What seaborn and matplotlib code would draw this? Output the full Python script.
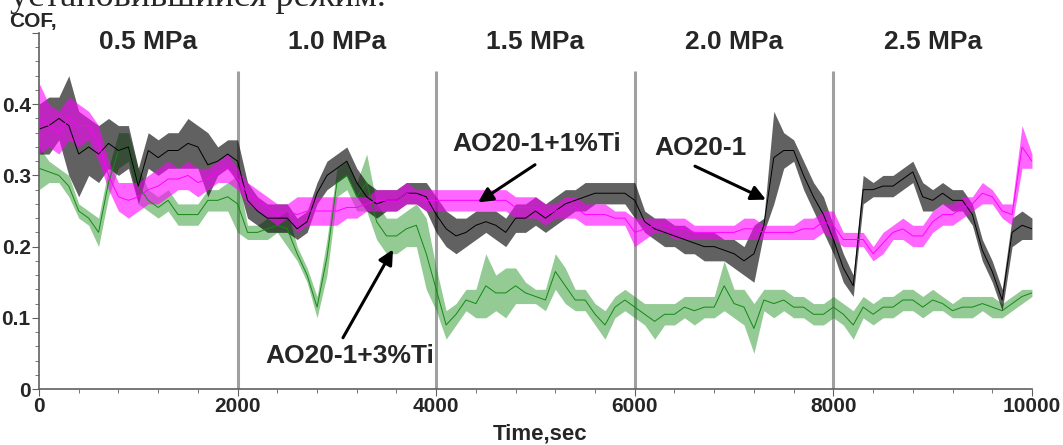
import numpy as np
import pandas as pd
import seaborn as sns
import matplotlib.pyplot as plt

# -----------------------------
# Data (lower / upper edge of the noisy trace every 100 s)
time_s = list(range(0, 10001, 100))

black_lo = [0.33, 0.33, 0.35, 0.30, 0.27, 0.30, 0.29, 0.31, 0.30, 0.31,
            0.26, 0.31, 0.30, 0.31, 0.31, 0.31, 0.31, 0.27, 0.30, 0.31,
            0.29, 0.24, 0.23, 0.22, 0.22, 0.22, 0.21, 0.22, 0.26, 0.28,
            0.29, 0.30, 0.27, 0.25, 0.24, 0.25, 0.25, 0.26, 0.26, 0.25,
            0.22, 0.20, 0.19, 0.20, 0.21, 0.22, 0.21, 0.20, 0.22, 0.22,
            0.23, 0.22, 0.23, 0.24, 0.25, 0.25, 0.26, 0.26, 0.26, 0.26,
            0.24, 0.22, 0.21, 0.20, 0.20, 0.19, 0.19, 0.18, 0.18, 0.18,
            0.17, 0.16, 0.15, 0.22, 0.26, 0.31, 0.32, 0.28, 0.25, 0.22,
            0.19, 0.15, 0.13, 0.26, 0.27, 0.27, 0.27, 0.28, 0.29, 0.25,
            0.25, 0.26, 0.25, 0.25, 0.23, 0.18, 0.15, 0.11, 0.20, 0.21,
            0.21]
black_hi = [0.40, 0.41, 0.41, 0.44, 0.39, 0.38, 0.37, 0.38, 0.37, 0.37,
            0.31, 0.36, 0.35, 0.36, 0.36, 0.38, 0.37, 0.36, 0.34, 0.35,
            0.35, 0.29, 0.27, 0.26, 0.26, 0.26, 0.24, 0.25, 0.29, 0.32,
            0.33, 0.34, 0.31, 0.29, 0.28, 0.28, 0.28, 0.29, 0.29, 0.29,
            0.27, 0.25, 0.24, 0.24, 0.25, 0.25, 0.25, 0.24, 0.26, 0.26,
            0.27, 0.26, 0.27, 0.28, 0.28, 0.29, 0.29, 0.29, 0.29, 0.29,
            0.29, 0.25, 0.24, 0.24, 0.23, 0.23, 0.22, 0.22, 0.22, 0.21,
            0.21, 0.20, 0.23, 0.24, 0.39, 0.36, 0.35, 0.32, 0.29, 0.27,
            0.23, 0.19, 0.16, 0.30, 0.29, 0.30, 0.30, 0.31, 0.32, 0.29,
            0.28, 0.29, 0.28, 0.28, 0.26, 0.21, 0.18, 0.14, 0.24, 0.25,
            0.24]

magenta_lo = [0.33, 0.34, 0.33, 0.35, 0.34, 0.35, 0.32, 0.28, 0.25, 0.24,
              0.25, 0.26, 0.26, 0.27, 0.28, 0.28, 0.27, 0.28, 0.29, 0.29,
              0.28, 0.26, 0.25, 0.24, 0.23, 0.24, 0.22, 0.23, 0.23, 0.23,
              0.23, 0.24, 0.24, 0.25, 0.25, 0.25, 0.25, 0.26, 0.26, 0.25,
              0.25, 0.25, 0.25, 0.25, 0.25, 0.25, 0.25, 0.25, 0.24, 0.24,
              0.24, 0.23, 0.24, 0.24, 0.24, 0.23, 0.23, 0.23, 0.23, 0.23,
              0.20, 0.21, 0.22, 0.22, 0.21, 0.21, 0.21, 0.21, 0.21, 0.21,
              0.21, 0.21, 0.21, 0.21, 0.21, 0.21, 0.21, 0.21, 0.21, 0.22,
              0.21, 0.20, 0.20, 0.20, 0.18, 0.19, 0.21, 0.21, 0.20, 0.20,
              0.22, 0.23, 0.23, 0.24, 0.25, 0.26, 0.26, 0.24, 0.23, 0.31,
              0.31]
magenta_hi = [0.43, 0.40, 0.39, 0.41, 0.40, 0.39, 0.37, 0.32, 0.29, 0.29,
              0.29, 0.30, 0.31, 0.32, 0.31, 0.32, 0.31, 0.31, 0.32, 0.33,
              0.31, 0.29, 0.28, 0.27, 0.26, 0.26, 0.27, 0.27, 0.27, 0.27,
              0.27, 0.27, 0.27, 0.27, 0.28, 0.28, 0.28, 0.29, 0.28, 0.28,
              0.28, 0.28, 0.28, 0.28, 0.28, 0.28, 0.28, 0.28, 0.27, 0.27,
              0.27, 0.26, 0.26, 0.27, 0.27, 0.26, 0.26, 0.26, 0.25, 0.25,
              0.24, 0.24, 0.24, 0.24, 0.24, 0.24, 0.23, 0.23, 0.23, 0.23,
              0.23, 0.24, 0.24, 0.23, 0.23, 0.23, 0.23, 0.24, 0.24, 0.25,
              0.25, 0.22, 0.22, 0.22, 0.20, 0.22, 0.23, 0.24, 0.23, 0.23,
              0.25, 0.26, 0.26, 0.27, 0.27, 0.29, 0.28, 0.26, 0.26, 0.37,
              0.33]

green_lo = [0.28, 0.29, 0.29, 0.27, 0.24, 0.23, 0.20, 0.27, 0.31, 0.32,
            0.26, 0.25, 0.24, 0.25, 0.23, 0.23, 0.23, 0.25, 0.25, 0.25,
            0.22, 0.21, 0.21, 0.21, 0.22, 0.20, 0.18, 0.15, 0.10, 0.16,
            0.27, 0.28, 0.25, 0.25, 0.21, 0.19, 0.19, 0.20, 0.20, 0.14,
            0.11, 0.07, 0.09, 0.11, 0.10, 0.10, 0.11, 0.10, 0.12, 0.12,
            0.12, 0.11, 0.14, 0.12, 0.11, 0.11, 0.09, 0.07, 0.10, 0.11,
            0.10, 0.09, 0.07, 0.09, 0.09, 0.10, 0.09, 0.10, 0.10, 0.11,
            0.10, 0.09, 0.05, 0.11, 0.10, 0.11, 0.10, 0.10, 0.09, 0.09,
            0.10, 0.09, 0.07, 0.10, 0.09, 0.10, 0.10, 0.11, 0.11, 0.10,
            0.11, 0.11, 0.10, 0.10, 0.10, 0.11, 0.10, 0.10, 0.11, 0.12,
            0.13]
green_hi = [0.34, 0.32, 0.31, 0.30, 0.26, 0.25, 0.24, 0.31, 0.36, 0.36,
            0.31, 0.28, 0.27, 0.28, 0.26, 0.26, 0.26, 0.28, 0.28, 0.29,
            0.30, 0.23, 0.23, 0.24, 0.24, 0.25, 0.20, 0.17, 0.13, 0.21,
            0.31, 0.32, 0.29, 0.33, 0.26, 0.24, 0.24, 0.25, 0.26, 0.24,
            0.17, 0.11, 0.12, 0.14, 0.14, 0.19, 0.16, 0.17, 0.17, 0.15,
            0.14, 0.14, 0.19, 0.17, 0.14, 0.14, 0.12, 0.11, 0.13, 0.14,
            0.13, 0.12, 0.12, 0.12, 0.12, 0.13, 0.13, 0.13, 0.13, 0.18,
            0.14, 0.14, 0.12, 0.14, 0.14, 0.14, 0.13, 0.13, 0.12, 0.12,
            0.13, 0.12, 0.11, 0.13, 0.12, 0.13, 0.13, 0.14, 0.14, 0.13,
            0.14, 0.13, 0.12, 0.13, 0.13, 0.13, 0.13, 0.12, 0.13, 0.14,
            0.14]

series_names = ["AO20-1+3%Ti", "AO20-1", "AO20-1+1%Ti"]
series_colors = ["#128a12", "#000000", "#ff00ff"]
band_alpha = [0.45, 0.62, 0.6]

stage_edges = [0, 2000, 4000, 6000, 8000, 10000]
stage_labels = ["0.5 MPa", "1.0 MPa", "1.5 MPa", "2.0 MPa", "2.5 MPa"]

y_ticks = [0, 0.1, 0.2, 0.3, 0.4, 0.5]
y_tick_labels = ["0", "0.1", "0.2", "0.3", "0.4", ""]
x_ticks = [0, 2000, 4000, 6000, 8000, 10000]

# -----------------------------
# Long table: two observations (low / high) per time step
rows = []
for name, lo, hi in zip(series_names,
                        [green_lo, black_lo, magenta_lo],
                        [green_hi, black_hi, magenta_hi]):
    for t, a, b in zip(time_s, lo, hi):
        rows.append((t, a, name))
        rows.append((t, b, name))
df = pd.DataFrame(rows, columns=["time", "cof", "series"])

# -----------------------------
# Plot
sns.set_style("ticks")
plt.rcParams["font.family"] = ["Liberation Sans", "DejaVu Sans"]
plt.rcParams["font.weight"] = "bold"

fig = plt.figure(figsize=(10.63, 4.45), dpi=100)
ax = fig.add_axes([0.0367, 0.1258, 0.9341, 0.80])

ax.vlines(stage_edges[1:-1], 0, 0.446, colors="#a0a0a0", lw=2.2, zorder=1)

# one call per series so each band gets its own density
for name, col, al in zip(series_names, series_colors, band_alpha):
    sns.lineplot(data=df[df["series"] == name], x="time", y="cof",
                 color=col, errorbar=("pi", 100), estimator="mean", lw=0.7,
                 err_kws={"alpha": al, "linewidth": 0}, ax=ax)

ax.set_xlim(0, 10000)
ax.set_ylim(0, 0.5)
ax.set_xticks(x_ticks)
ax.set_xticks(np.arange(0, 10001, 400), minor=True)
ax.set_yticks(y_ticks)
ax.set_yticklabels(y_tick_labels)
ax.set_yticks(np.arange(0, 0.501, 0.02), minor=True)
ax.tick_params(axis="both", which="major", labelsize=15, length=5,
               color="#606060", pad=1)
ax.tick_params(axis="both", which="minor", length=3, color="#606060")
for lab in ax.get_xticklabels() + ax.get_yticklabels():
    lab.set_fontweight("bold")
ax.set_xlabel("")
ax.set_ylabel("")
sns.despine(ax=ax)
for sp in ["left", "bottom"]:
    ax.spines[sp].set_color("#606060")
    ax.spines[sp].set_linewidth(1.2)

# stage labels
for i, lab in enumerate(stage_labels):
    xc = (stage_edges[i] + stage_edges[i + 1]) / 2
    ax.text(xc + (100 if i == 0 else 0), 0.487, lab, ha="center", va="center",
            fontsize=19, fontweight="bold")

# annotations
arrow = dict(arrowstyle="-|>", color="black", lw=2.2, mutation_scale=22,
             shrinkA=0, shrinkB=0)
ax.text(5015, 0.344, "AO20-1+1%Ti", ha="center", va="center",
        fontsize=19, fontweight="bold")
ax.annotate("", xy=(4421, 0.262), xytext=(4995, 0.315), arrowprops=arrow)
ax.text(6657, 0.339, "AO20-1", ha="center", va="center",
        fontsize=19, fontweight="bold")
ax.annotate("", xy=(7321, 0.266), xytext=(6606, 0.313), arrowprops=arrow)
ax.text(3132, 0.046, "AO20-1+3%Ti", ha="center", va="center",
        fontsize=19, fontweight="bold")
ax.annotate("", xy=(3565, 0.196), xytext=(3061, 0.072), arrowprops=arrow)

# axis titles
fig.text(9 / 1063, 1 - 22 / 445, "COF,", ha="left", va="center",
         fontsize=15, fontweight="bold")
fig.text(540 / 1063, 1 - 434 / 445, "Time,sec", ha="center", va="center",
         fontsize=16, fontweight="bold")

# cut-off line of document text above the chart
fig.text(10 / 1063, 1 - 6 / 445, "установившийся режим.", ha="left",
         va="baseline", fontsize=26, fontweight="normal",
         family=["Liberation Serif", "DejaVu Serif"])

fig.savefig("out.png", dpi=100)
